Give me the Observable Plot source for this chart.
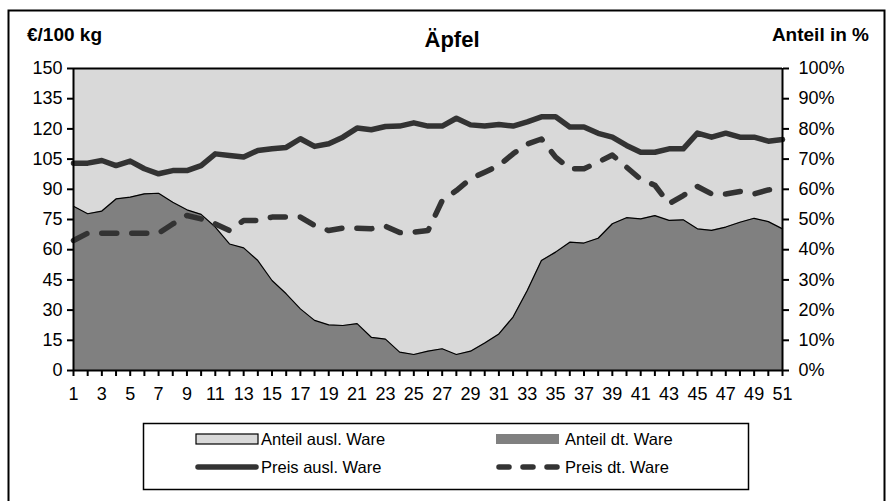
<!DOCTYPE html>
<html>
<head>
<meta charset="utf-8">
<script src="https://cdn.jsdelivr.net/npm/d3@7"></script>
<script src="https://cdn.jsdelivr.net/npm/@observablehq/plot@0.6"></script>
<style>
  html, body { margin: 0; padding: 0; background: white; }
  #chart { width: 890px; height: 501px; overflow: hidden; }
</style>
</head>
<body>
<div id="chart"></div>
<script>
// ---- data ----
const weeks = [1,2,3,4,5,6,7,8,9,10,11,12,13,14,15,16,17,18,19,20,21,22,23,24,25,26,27,28,29,30,31,32,33,34,35,36,37,38,39,40,41,42,43,44,45,46,47,48,49,50,51];
// share of domestic produce, %
const anteilDt = [54.4,51.9,52.8,56.8,57.4,58.5,58.7,55.7,53.2,51.7,47.5,41.9,40.6,36.4,29.8,25.4,20.4,16.6,15.1,14.9,15.5,11.0,10.4,6.1,5.3,6.4,7.2,5.3,6.4,9.1,12.1,17.7,26.5,36.4,39.2,42.5,42.2,43.8,48.6,50.6,50.2,51.3,49.7,49.9,46.9,46.4,47.5,49.1,50.4,49.3,46.9];
// share of foreign produce, %
const anteilAusl = anteilDt.map(v => 100 - v);
// prices €/100 kg
const preisAusl = [103,103,104.3,101.8,104,100.2,97.7,99.3,99.3,101.8,107.6,106.8,106,109.3,110.1,110.8,115.1,111.3,112.6,115.9,120.4,119.6,121.2,121.4,123,121.4,121.4,125.3,122,121.4,122.2,121.4,123.5,126,126,120.9,120.9,117.8,115.9,111.8,108.4,108.4,110.1,110.1,117.9,115.9,117.9,115.9,115.9,113.9,114.7];
const preisDt = [64.6,68.2,68.2,68.2,68.2,68.2,68.2,72.8,77,75.3,72.8,69.5,74.5,74.5,76.2,76.2,76.2,72,69.5,70.7,70.7,70.4,71.7,68.5,68.7,69.5,84.4,89.4,95.2,98.5,101.8,107.6,112.5,115,106,100.2,100.2,103.5,107,101,95,92,82.8,86.9,91.4,87.7,87.7,88.9,87.7,89.7,90.2];
// axis ticks
const priceTicks = [0,15,30,45,60,75,90,105,120,135,150];
const pctTicks = [0,10,20,30,40,50,60,70,80,90,100];
const xTickLabels = [1,3,5,7,9,11,13,15,17,19,21,23,25,27,29,31,33,35,37,39,41,43,45,47,49,51];
// texts
const titleText = "Äpfel";
const leftUnit = "€/100 kg";
const rightUnit = "Anteil in %";
const legendItems = ["Anteil ausl. Ware", "Anteil dt. Ware", "Preis ausl. Ware", "Preis dt. Ware"];

const PRICE_MAX = 150, PCT_MAX = 100;
const k = PRICE_MAX / PCT_MAX; // share -> price-axis units

const rows = weeks.map((w, i) => ({
  week: w,
  dt: anteilDt[i],
  ausl: anteilAusl[i],
  pAusl: preisAusl[i],
  pDt: preisDt[i]
}));

const LINE = "#333333", LIGHT = "#d9d9d9", DARK = "#808080";
const FONT = "'Liberation Sans', Arial, Helvetica, sans-serif";

const svg = Plot.plot({
  width: 890,
  height: 501,
  marginLeft: 73,
  marginRight: 108,
  marginTop: 68,
  marginBottom: 131,
  style: { fontFamily: FONT, fontSize: "18px", background: "white", color: "black", overflow: "visible" },
  x: { domain: [1, 51] },
  y: { domain: [0, PRICE_MAX] },
  marks: [
    Plot.areaY(rows, { x: "week", y1: d => d.dt * k, y2: d => (d.dt + d.ausl) * k, fill: LIGHT }),
    Plot.areaY(rows, { x: "week", y1: 0, y2: d => d.dt * k, fill: DARK }),
    Plot.lineY(rows, { x: "week", y: d => d.dt * k, stroke: "black", strokeWidth: 1.2 }),
    Plot.lineY(rows, { x: "week", y: "pDt", stroke: LINE, strokeWidth: 5.5, strokeDasharray: "15,15", strokeLinecap: "round" }),
    Plot.lineY(rows, { x: "week", y: "pAusl", stroke: LINE, strokeWidth: 5.5, strokeLinejoin: "round" }),
    Plot.ruleX([1, 51], { stroke: "black", strokeWidth: 2 }),
    Plot.ruleY([0, PRICE_MAX], { stroke: "black", strokeWidth: 2 }),
    Plot.axisY({ anchor: "left", ticks: priceTicks, tickSize: 6, tickPadding: 5, strokeWidth: 2, label: null, fontSize: 18 }),
    Plot.axisY({ anchor: "right", ticks: pctTicks.map(p => p * k), tickFormat: d => Math.round(d / k) + "%", tickSize: 6, tickPadding: 10, strokeWidth: 2, label: null, fontSize: 18 }),
    Plot.axisX({ ticks: weeks, tickFormat: d => xTickLabels.includes(d) ? String(d) : "", tickSize: 6, tickPadding: 11, strokeWidth: 2, label: null, fontSize: 18 })
  ]
});

const s = d3.select(svg);
// outer frame
s.append("rect").attr("x", 8.5).attr("y", 10.5).attr("width", 876).attr("height", 520)
  .attr("fill", "none").attr("stroke", "black").attr("stroke-width", 2);
// title and unit labels
s.append("text").attr("x", 452).attr("y", 47).attr("text-anchor", "middle")
  .attr("font-family", FONT).attr("font-weight", "bold").attr("font-size", 22).text(titleText);
s.append("text").attr("x", 27).attr("y", 41).attr("text-anchor", "start")
  .attr("font-family", FONT).attr("font-weight", "bold").attr("font-size", 19).text(leftUnit);
s.append("text").attr("x", 869).attr("y", 41).attr("text-anchor", "end")
  .attr("font-family", FONT).attr("font-weight", "bold").attr("font-size", 19).text(rightUnit);

// legend
const lg = s.append("g");
lg.append("rect").attr("x", 143.5).attr("y", 423.5).attr("width", 605).attr("height", 66)
  .attr("fill", "white").attr("stroke", "black").attr("stroke-width", 1.5);
const r1 = 439, r2 = 467;
// light swatch
lg.append("rect").attr("x", 196).attr("y", r1 - 5).attr("width", 62).attr("height", 10)
  .attr("fill", LIGHT).attr("stroke", "black").attr("stroke-width", 1.2);
// dark swatch
lg.append("rect").attr("x", 496).attr("y", r1 - 5).attr("width", 63).attr("height", 10)
  .attr("fill", DARK);
// solid line swatch
lg.append("line").attr("x1", 198).attr("x2", 256).attr("y1", r2).attr("y2", r2)
  .attr("stroke", LINE).attr("stroke-width", 5.5).attr("stroke-linecap", "round");
// dashed swatch
lg.append("line").attr("x1", 499).attr("x2", 557).attr("y1", r2).attr("y2", r2)
  .attr("stroke", LINE).attr("stroke-width", 5.5).attr("stroke-linecap", "round").attr("stroke-dasharray", "10,14");
const lt = [[261, r1, legendItems[0]], [565, r1, legendItems[1]], [261, r2, legendItems[2]], [565, r2, legendItems[3]]];
for (const [x, y, t] of lt) {
  lg.append("text").attr("x", x).attr("y", y).attr("dy", "0.35em").attr("text-anchor", "start")
    .attr("font-family", FONT).attr("font-size", 16.5).text(t);
}

document.getElementById("chart").appendChild(svg);
</script>
</body>
</html>
